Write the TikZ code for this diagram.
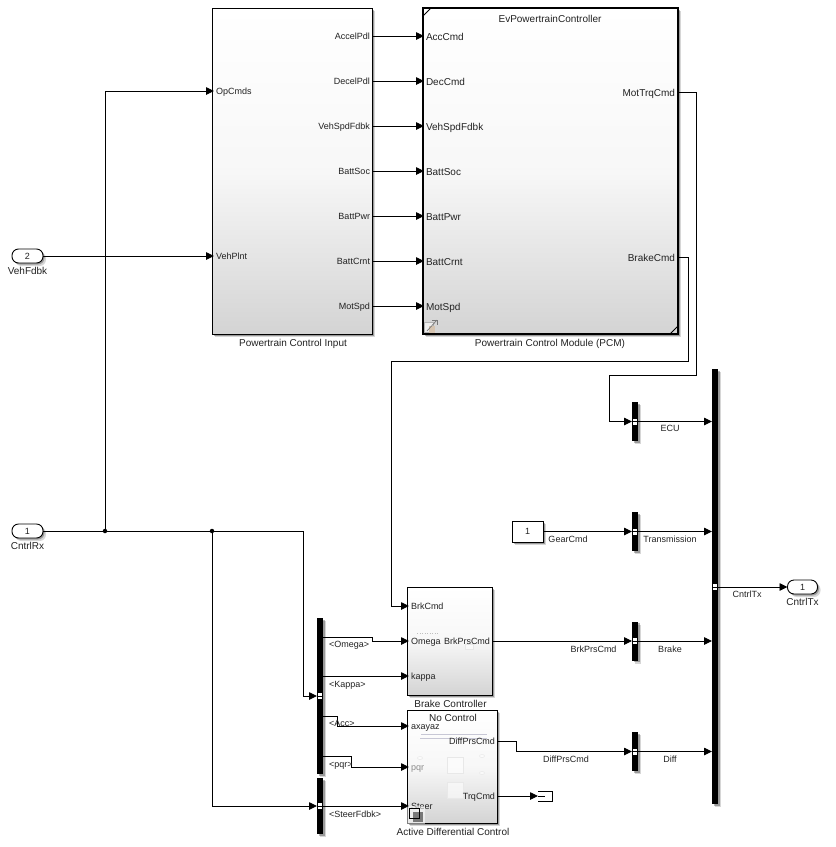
\documentclass[tikz,border=0pt]{standalone}
\usepackage{fontspec}
\setmainfont{Liberation Sans}
\usetikzlibrary{arrows.meta, positioning, calc, shadows}
\definecolor{sig-text}{RGB}{34,34,34}
\definecolor{icon-gray}{RGB}{120,120,120}
\definecolor{icon-tan}{RGB}{214,196,176}

\begin{document}
\begin{tikzpicture}[
  x=1pt, y=-1pt,
  every node/.style={font=\fontsize{9}{10}\selectfont, text=sig-text, inner sep=2pt, outer sep=0pt},
  caption/.style={font=\fontsize{10}{12}\selectfont},
  softshadow/.style={drop shadow={shadow xshift=3pt, shadow yshift=-3pt, opacity=.16, fill=black},
                     drop shadow={shadow xshift=1.5pt, shadow yshift=-1.5pt, opacity=.28, fill=black}},
  block/.style={draw=black, line width=.9pt, anchor=north west, inner sep=0pt, softshadow,
                top color=white, bottom color=black!17, middle color=black!3},
  modelblock/.style={block, line width=1.8pt},
  busbar/.style={fill=black, draw=none, anchor=north west, inner sep=0pt, minimum width=6pt, softshadow},
  busmark/.style={fill=white, draw=none, inner sep=0pt, minimum width=4pt, minimum height=6pt},
  port/.style={draw=black, line width=.9pt, fill=white, rounded corners=6.5pt, minimum width=31pt, minimum height=14pt, inner sep=0pt, softshadow},
  inlabel/.style={anchor=west, text height=7.5pt, text depth=.9pt},
  outlabel/.style={anchor=east, text height=7.5pt, text depth=.9pt},
  modelin/.style={inlabel, caption, text height=8.5pt, text depth=.5pt},
  modelout/.style={outlabel, caption, text height=8.5pt, text depth=.5pt},
  sig/.style={-{Triangle[length=8pt, width=7.5pt]}, line width=.9pt, black},
  junction/.style={circle, fill=black, inner sep=0pt, minimum size=4.5pt},
  ghost/.style={draw=black!9, fill=white, fill opacity=.55, line width=.5pt},
]
  \useasboundingbox (0,0) rectangle (836,847);

  % blocks
  \node[block, minimum width=160pt, minimum height=326pt] (pci) at (212,8) {};
  \node[modelblock, minimum width=255pt, minimum height=326pt] (pcm) at (423,8) {};
  \node[block, minimum width=85pt, minimum height=108pt] (brake) at (407,587) {};
  \node[block, minimum width=90pt, minimum height=113pt] (adc) at (407,710) {};
  \node[draw=black, line width=.9pt, fill=white, minimum width=31pt, minimum height=21pt, inner sep=0pt, softshadow] (gear) at (527.5,531.5) {1};

  \draw[line width=.8pt] (pcm.north west) ++(0,8) -- ++(8,-8);
  \draw[line width=.8pt] (pcm.south east) ++(0,-8) -- ++(-8,8);

  \node[caption] at (550,18.5) {EvPowertrainController};
  \node[caption] at (293,343.5) {Powertrain Control Input};
  \node[caption] at (550,343.5) {Powertrain Control Module (PCM)};
  \node[caption] at (450.5,704) {Brake Controller};
  \node[caption] at (453,832) {Active Differential Control};
  \node[caption] at (453,718) {No Control};
  \node at (568,539) {GearCmd};

  % faint contents of the masked blocks
  \draw[blue!25!black!22, line width=.5pt] (421,734) -- (487,734) (420,738) -- (487,738);
  \draw[ghost] (447,757) rectangle (463,773);
  \draw[ghost] (447,782) rectangle (463,798);
  \draw[ghost] (420,758) ellipse (2.5 and 1.5);
  \draw[ghost] (482,756) ellipse (2.5 and 1.5);
  \draw[ghost] (482,773) ellipse (2.5 and 1.5);
  \draw[ghost] (465,644) rectangle (473,649);
  \draw[black!25, dotted, line width=.5pt] (417,633) -- (438,633);

  % ports on the control input
  \node[inlabel] (opcmds) at (214,91) {OpCmds};
  \node[inlabel] (vehplnt) at (214,256) {VehPlnt};
  \node[outlabel] (accelpdl) at (372,36) {AccelPdl};
  \node[outlabel] (decelpdl) at (372,81) {DecelPdl};
  \node[outlabel] (vehspd) at (372,126) {VehSpdFdbk};
  \node[outlabel] (battsoc) at (372,171) {BattSoc};
  \node[outlabel] (battpwr) at (372,216) {BattPwr};
  \node[outlabel] (battcrnt) at (372,261) {BattCrnt};
  \node[outlabel] (motspd) at (372,306) {MotSpd};

  % ports on the control module
  \node[modelin] (acccmd) at (424,36) {AccCmd};
  \node[modelin] (deccmd) at (424,81) {DecCmd};
  \node[modelin] (vehspdin) at (424,126) {VehSpdFdbk};
  \node[modelin] (battsocin) at (424,171) {BattSoc};
  \node[modelin] (battpwrin) at (424,216) {BattPwr};
  \node[modelin] (battcrntin) at (424,261) {BattCrnt};
  \node[modelin] (motspdin) at (424,306) {MotSpd};
  \node[modelout] (mottrq) at (677,92) {MotTrqCmd};
  \node[modelout] (brakecmd) at (677,257) {BrakeCmd};

  % ports on the brake controller and the differential
  \node[inlabel] (brkcmd) at (409,606) {BrkCmd};
  \node[inlabel] (omega) at (409,641) {Omega};
  \node[inlabel] (kappa) at (409,676) {kappa};
  \node[outlabel] (brkprs) at (492,641) {BrkPrsCmd};
  \node[inlabel] (axayaz) at (409,726) {axayaz};
  \node[inlabel, text=black!45] (pqr) at (409,767) {pqr};
  \node[inlabel] (steer) at (409,806) {Steer};
  \node[outlabel] (diffprs) at (497,741) {DiffPrsCmd};
  \node[outlabel] (trqcmd) at (497,796) {TrqCmd};

  % library icons
  \draw[black!30, fill=white, fill opacity=.6, line width=.6pt] (424,322) rectangle (433,332);
  \fill[icon-tan] (429,326) rectangle (435,333);
  \draw[icon-gray, line width=.7pt] (427,331) -- (437,320);
  \draw[icon-gray, line width=.7pt] (432,320) -- (437,320) -- (437,325);
  \fill[white, opacity=.5] (407,806) rectangle (425,824);
  \fill[icon-gray] (413,812) rectangle (423,822);
  \draw[black, line width=.7pt] (409,808) rectangle (419,818);

  % inports and outport
  \node[port] (vehfdbk) at (27.5,256) {2};
  \node[caption] at (27.5,271) {VehFdbk};
  \node[port] (cntrlrx) at (27.5,531) {1};
  \node[caption] at (27.5,546) {CntrlRx};
  \node[port, minimum width=30pt] (cntrltx) at (802.5,587) {1};
  \node[caption] at (802.5,601.5) {CntrlTx};

  % bus bars
  \node[busbar, minimum height=156pt] (selbar) at (317,618) {};
  \node[busbar, minimum height=56pt] (steerbar) at (317,778) {};
  \node[busbar, minimum height=39pt] (ecubar) at (632,402) {};
  \node[busbar, minimum height=39pt] (transbar) at (632,512) {};
  \node[busbar, minimum height=39pt] (brakebar) at (632,621.5) {};
  \node[busbar, minimum height=39pt] (diffbar) at (632,732) {};
  \node[busbar, minimum height=435pt] (txbar) at (712,369) {};
  \node[busmark] (selmark) at (320,696) {};
  \node[busmark] (steermark) at (320,806) {};
  \node[busmark] (ecumark) at (635,421.5) {};
  \node[busmark] (transmark) at (635,531.5) {};
  \node[busmark] (brakemark) at (635,641) {};
  \node[busmark] (diffmark) at (635,751.5) {};
  \node[busmark] (txmark) at (715,587) {};
  \foreach \barmark in {selmark, steermark, ecumark, transmark, brakemark, diffmark, txmark} {
    \draw[black, line width=.5pt] (\barmark.west) -- (\barmark.east);
  }

  % terminator
  \coordinate (termin) at (538,796);
  \draw[black, line width=.9pt] (538,791.5) -- (552,791.5) -- (552,801) -- (538,801) (termin) -- (545,796);

  % junctions
  \node[junction] (jopcmds) at (105,531) {};
  \node[junction] (jsteer) at (212,531) {};

  % upper connectors
  \draw[sig] (accelpdl.east) -- (acccmd.west);
  \draw[sig] (decelpdl.east) -- (deccmd.west);
  \draw[sig] (vehspd.east) -- (vehspdin.west);
  \draw[sig] (battsoc.east) -- (battsocin.west);
  \draw[sig] (battpwr.east) -- (battpwrin.west);
  \draw[sig] (battcrnt.east) -- (battcrntin.west);
  \draw[sig] (motspd.east) -- (motspdin.west);
  \draw[sig] (vehfdbk.east) -- (vehplnt.west);
  \draw[sig] (jopcmds) |- (opcmds.west);
  \draw[line width=.9pt] (cntrlrx.east) -- (jopcmds) -- (jsteer);

  % connectors to the bus selectors
  \draw[sig] (jsteer) -- (303,531) -- (303,696) -- (selbar.west |- selmark);
  \draw[sig] (jsteer) |- (steerbar.west |- steermark);
  \draw[sig] (selbar.east |- 0,637) -- (372,637) -- (372,641) -- (omega.west);
  \draw[sig] (selbar.east |- kappa.west) -- (kappa.west);
  \draw[sig] (selbar.east |- 0,716) -- (337,716) -- (337,726) -- (axayaz.west);
  \draw[sig] (selbar.east |- 0,756) -- (351,756) -- (351,767) -- (pqr.west);
  \draw[sig] (steerbar.east |- steer.west) -- (steer.west);
  \node[inlabel] at (327,644) {<Omega>};
  \node[inlabel] at (327,684) {<Kappa>};
  \node[inlabel] at (327,723) {<Acc>};
  \node[inlabel] at (327,764) {<pqr>};
  \node[inlabel] at (327,814) {<SteerFdbk>};

  % connectors from the control module
  \draw[sig] (mottrq.east) -- (696,92) -- (696,375) -- (609,375) -- (609,421.5) -- (ecubar.west);
  \draw[sig] (brakecmd.east) -- (688,257) -- (688,361) -- (391,361) -- (391,606) -- (brkcmd.west);

  % connectors into the outer bus
  \draw[sig] (gear.east) -- (transbar.west);
  \draw[sig] (brkprs.east) -- (brakebar.west);
  \draw[sig] (diffprs.east) -- (516,741) -- (516,751.5) -- (diffbar.west);
  \draw[sig] (trqcmd.east) -- (termin);
  \draw[sig] (ecubar.east) -- (txbar.west |- ecubar.east);
  \draw[sig] (transbar.east) -- (txbar.west |- transbar.east);
  \draw[sig] (brakebar.east) -- (txbar.west |- brakebar.east);
  \draw[sig] (diffbar.east) -- (txbar.west |- diffbar.east);
  \draw[sig] (txmark.east) -- (cntrltx.west);
  \node at (670,428.5) {ECU};
  \node at (670,539) {Transmission};
  \node at (670,649) {Brake};
  \node at (670,759) {Diff};
  \node at (747,594) {CntrlTx};
  \node at (593.5,649) {BrkPrsCmd};
  \node at (566,759) {DiffPrsCmd};
\end{tikzpicture}
\end{document}
